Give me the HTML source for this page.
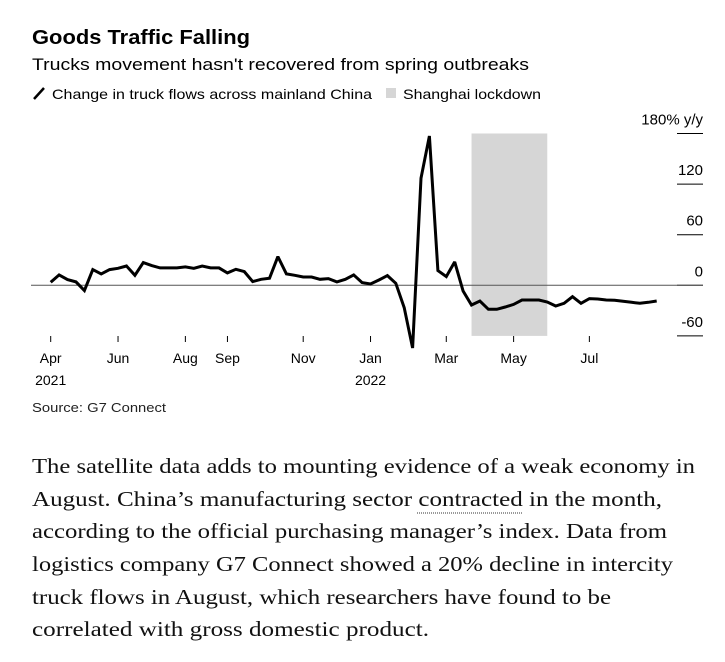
<!DOCTYPE html>
<html><head><meta charset="utf-8"><style>
html,body{margin:0;padding:0;background:#fff;}
svg{display:block;}
text{font-family:"Liberation Sans",sans-serif;}
.body{font-family:"Liberation Serif",serif;font-size:21px;fill:#111;}
</style></head><body>
<svg id="chart" width="725" height="662" viewBox="0 0 725 662">
<text x="32" y="44" font-size="20" font-weight="bold" textLength="218" lengthAdjust="spacingAndGlyphs" fill="#000">Goods Traffic Falling</text>
<text x="32" y="70" font-size="17" textLength="497" lengthAdjust="spacingAndGlyphs" fill="#000">Trucks movement hasn't recovered from spring outbreaks</text>
<g>
<line x1="34" y1="99" x2="44" y2="88" stroke="#000" stroke-width="2.5"/>
<text x="52" y="99" font-size="14" textLength="320" lengthAdjust="spacingAndGlyphs">Change in truck flows across mainland China</text>
<rect x="386" y="88" width="10" height="10" fill="#d6d6d6"/>
<text x="403" y="99" font-size="14" textLength="138" lengthAdjust="spacingAndGlyphs">Shanghai lockdown</text>
</g>
<g id="plot"></g>
<text x="32" y="412" font-size="13" textLength="134" lengthAdjust="spacingAndGlyphs" fill="#222">Source: G7 Connect</text>
<g>
<text class="body" x="32" y="473" textLength="663" lengthAdjust="spacingAndGlyphs">The satellite data adds to mounting evidence of a weak economy in</text>
<text class="body" x="32" y="506" textLength="630" lengthAdjust="spacingAndGlyphs">August. China’s manufacturing sector contracted in the month,</text>
<text class="body" x="32" y="538" textLength="635" lengthAdjust="spacingAndGlyphs">according to the official purchasing manager’s index. Data from</text>
<text class="body" x="32" y="571" textLength="641" lengthAdjust="spacingAndGlyphs">logistics company G7 Connect showed a 20% decline in intercity</text>
<text class="body" x="32" y="604" textLength="579" lengthAdjust="spacingAndGlyphs">truck flows in August, which researchers have found to be</text>
<text class="body" x="32" y="636" textLength="397" lengthAdjust="spacingAndGlyphs">correlated with gross domestic product.</text>
<line x1="417" y1="513" x2="522" y2="513" stroke="#333" stroke-width="1" stroke-dasharray="1,1"/>
</g>
</svg>
<script>
const values=[3.6,12.3,6.7,4,-6.3,18.6,13.5,18.6,20.2,22.9,11.9,26.9,23.4,20.6,20.6,20.6,21.8,20.2,22.9,20.6,20.6,14.7,19,16.2,4.4,7.1,8.3,34,13.5,11.9,9.9,9.9,7.1,7.9,4,7.1,12.3,3.2,1.6,6.3,11.5,2.4,-26.5,-74.4,
127,177,17.4,10.3,27.7,-6.7,-23.4,-18.6,-28.5,-28.5,-25.7,-22.6,-17.4,-17.4,-17.4,-19.8,-24.6,-21.4,-13.5,-21.4,-15.8,-16.2,-17.4,-17.8,-19,-20.2,-21.4,-20.2,-18.6];
const yTicks=[180,120,60,0,-60];
const yTickLabels=["180% y/y","120","60","0","-60"];
const monthLabels=["Apr","Jun","Aug","Sep","Nov","Jan","Mar","May","Jul"];
const monthIndex=[0,8,16,21,30,38,47,55,64];
const yearLabels=["2021","","","","","2022","","",""];
const lockdownStart=50, lockdownEnd=59;

const NS="http://www.w3.org/2000/svg";
const plot=document.getElementById('plot');
const x0=50.7,x1=656.7;
const xs=i=>x0+(x1-x0)*i/(values.length-1);
const ys=v=>285.3-v*(50.6/60);
function mk(tag,attrs){const e=document.createElementNS(NS,tag);for(const k in attrs)e.setAttribute(k,attrs[k]);plot.appendChild(e);return e;}

const sh=mk('rect',{x:xs(lockdownStart),y:ys(180),width:xs(lockdownEnd)-xs(lockdownStart),height:ys(-60)-ys(180),fill:'#d6d6d6'});



yTicks.forEach((t,i)=>{
  const g=mk('line',{x1:677,x2:703,y1:ys(t),y2:ys(t),stroke:'#000','stroke-width':1});
  
  
  const tx=mk('text',{x:703,y:ys(t)-9,'font-size':15,'text-anchor':'end',fill:'#000'});
  tx.textContent=yTickLabels[i];
  
  
});
const zl=mk('line',{x1:31,x2:703,y1:ys(0),y2:ys(0),stroke:'#555','stroke-width':1});



monthLabels.forEach((m,i)=>{
  const x=xs(monthIndex[i]);
  const tk=mk('line',{x1:x,x2:x,y1:336,y2:342,stroke:'#000','stroke-width':1});
  
  
  const t=mk('text',{x:x,y:363,'font-size':14,'text-anchor':'middle'});
  t.textContent=m;
  
  
  if(yearLabels[i]){
    const y=mk('text',{x:x,y:385,'font-size':14,'text-anchor':'middle'});
    y.textContent=yearLabels[i];
    
    
  }
});

const pts=values.map((v,i)=>xs(i).toFixed(1)+','+ys(v).toFixed(1)).join(' ');
const pl=mk('polyline',{points:pts,fill:'none',stroke:'#000','stroke-width':3,'stroke-linejoin':'miter','stroke-miterlimit':2});


</script>
</body></html>
